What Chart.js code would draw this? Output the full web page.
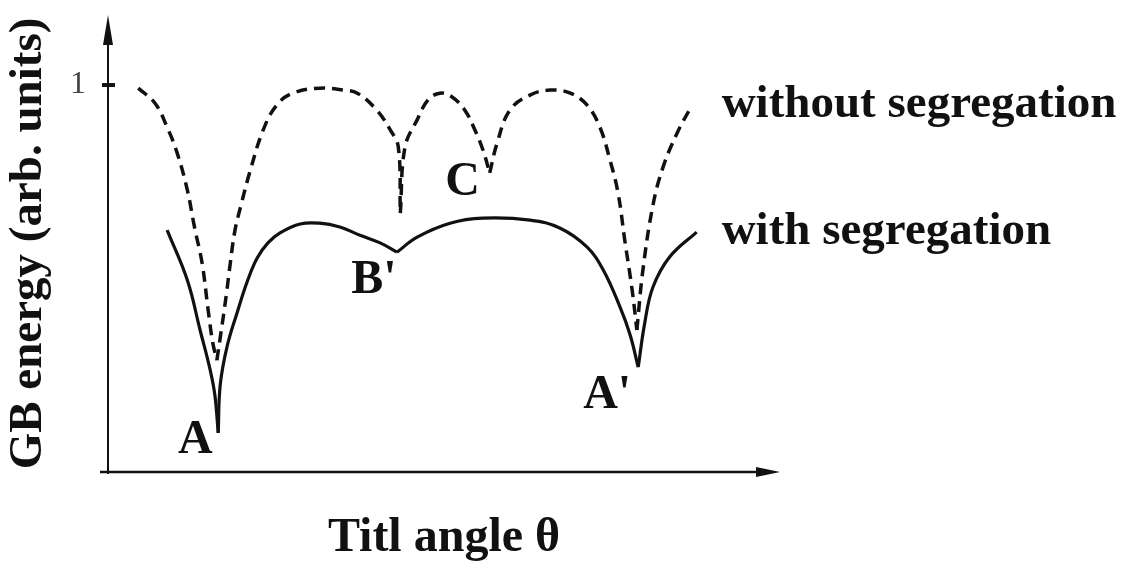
<!DOCTYPE html>
<html>
<head>
<meta charset="utf-8">
<script src="https://cdn.jsdelivr.net/npm/chart.js@4.4.1/dist/chart.umd.min.js"></script>
<style>
  html, body { margin: 0; padding: 0; background: #fff; }
  #wrap { width: 1137px; height: 568px; }
</style>
</head>
<body>
<div id="wrap"><canvas id="c" width="1137" height="568"></canvas></div>
<script>
// Tilt angle in arbitrary units (0-100); GB energy normalised so the high-angle plateau is 1.
// Each curve is kept as arcs running from one cusp to the next.
const withoutSegregation = [
  [[4.5,0.992],[7.0,0.953],[8.8,0.891],[10.3,0.824],[11.8,0.729],[12.9,0.630],[14.0,0.540],[14.9,0.419],[15.6,0.333],[16.2,0.289]],
  [[16.2,0.289],[16.8,0.359],[17.6,0.457],[18.2,0.540],[18.9,0.625],[19.8,0.690],[21.1,0.775],[23.1,0.884],[25.1,0.948],[27.5,0.979],[31.5,0.992],[35.0,0.987],[37.1,0.979],[40.0,0.935],[42.0,0.884],[43.2,0.840],[43.5,0.669]],
  [[43.5,0.669],[44.2,0.840],[46.0,0.910],[47.6,0.961],[49.4,0.979],[51.2,0.969],[53.1,0.935],[54.6,0.884],[55.8,0.832],[56.8,0.773]],
  [[56.8,0.773],[57.9,0.850],[59.8,0.935],[62.8,0.974],[65.8,0.987],[68.8,0.979],[71.3,0.948],[73.2,0.891],[74.7,0.806],[75.9,0.721],[76.9,0.599],[78.0,0.470],[78.7,0.367]],
  [[78.7,0.367],[79.6,0.522],[81.1,0.690],[82.6,0.788],[84.7,0.876],[86.9,0.948]]
];

const withSegregation = [
  [[8.8,0.625],[11.8,0.496],[13.7,0.367],[15.2,0.264],[15.9,0.199],[16.4,0.101]],
  [[16.4,0.101],[16.7,0.225],[17.7,0.323],[19.2,0.411],[20.8,0.496],[22.2,0.553],[23.8,0.592],[25.6,0.618],[28.6,0.641],[31.5,0.643],[34.5,0.633],[37.5,0.612],[40.5,0.592],[43.0,0.568]],
  [[43.0,0.568],[46.0,0.607],[50.9,0.643],[55.8,0.656],[62.8,0.651],[67.3,0.630],[71.3,0.581],[73.7,0.522],[76.2,0.426],[77.7,0.354],[78.9,0.271]],
  [[78.9,0.271],[79.9,0.388],[81.1,0.478],[83.6,0.556],[87.6,0.620]]
];

const seriesNames = ['without segregation', 'with segregation'];
const yTickValues = [1];

const INK = '#111';
const SERIF = '"Liberation Serif", "Times New Roman", serif';

function arcsToDatasets(arcs, name, dashed) {
  return arcs.map(arc => ({
    label: name,
    data: arc.map(([x, y]) => ({ x, y })),
    borderColor: INK,
    borderWidth: dashed ? 3.5 : 3.2,
    borderDash: dashed ? [11, 7] : [],
    borderCapStyle: 'butt',
    pointRadius: 0,
    fill: false,
    tension: 0.4
  }));
}

const datasets = [
  ...arcsToDatasets(withoutSegregation, seriesNames[0], true),
  ...arcsToDatasets(withSegregation, seriesNames[1], false)
];

// Cusp labels: which arc end they belong to, and a small nudge in pixels.
const cuspLabels = [
  { text: 'A',  arcs: withSegregation,    arc: 0, dx: -23, dy: 8 },
  { text: "B'", arcs: withSegregation,    arc: 1, dx: -23, dy: 28 },
  { text: 'C',  arcs: withoutSegregation, arc: 2, dx: -27, dy: 10 },
  { text: "A'", arcs: withSegregation,    arc: 2, dx: -31, dy: 28 }
];

const sketchPlugin = {
  id: 'sketch',
  afterDraw(chart) {
    const { ctx, chartArea: a, scales: { x, y } } = chart;
    ctx.save();
    ctx.strokeStyle = INK;
    ctx.fillStyle = INK;

    // horizontal axis with arrow
    ctx.lineWidth = 2.5;
    ctx.beginPath();
    ctx.moveTo(a.left - 8, a.bottom);
    ctx.lineTo(a.right - 16, a.bottom);
    ctx.stroke();
    ctx.beginPath();
    ctx.moveTo(a.right, a.bottom);
    ctx.lineTo(a.right - 24, a.bottom - 5);
    ctx.lineTo(a.right - 24, a.bottom + 5);
    ctx.closePath();
    ctx.fill();

    // vertical axis with arrow
    ctx.lineWidth = 2;
    ctx.beginPath();
    ctx.moveTo(a.left, a.bottom + 2);
    ctx.lineTo(a.left, a.top + 20);
    ctx.stroke();
    ctx.beginPath();
    ctx.moveTo(a.left, a.top);
    ctx.lineTo(a.left - 5, a.top + 30);
    ctx.lineTo(a.left + 5, a.top + 30);
    ctx.closePath();
    ctx.fill();

    // tick mark across the vertical axis
    ctx.lineWidth = 4;
    yTickValues.forEach(v => {
      const py = y.getPixelForValue(v);
      ctx.beginPath();
      ctx.moveTo(a.left - 6, py);
      ctx.lineTo(a.left + 7, py);
      ctx.stroke();
    });

    // series names at the right-hand ends of the curves
    ctx.font = 'bold 47px ' + SERIF;
    ctx.textBaseline = 'middle';
    ctx.textAlign = 'left';
    const ends = [withoutSegregation, withSegregation].map(arcs => {
      const last = arcs[arcs.length - 1];
      return last[last.length - 1];
    });
    const labelX = Math.max(...ends.map(p => x.getPixelForValue(p[0]))) + 25;
    ends.forEach((p, i) => {
      ctx.fillText(seriesNames[i], labelX, y.getPixelForValue(p[1]));
    });

    // cusp letters
    ctx.font = 'bold 48px ' + SERIF;
    ctx.textAlign = 'center';
    cuspLabels.forEach(l => {
      const arc = l.arcs[l.arc];
      const p = arc[arc.length - 1];
      ctx.fillText(l.text, x.getPixelForValue(p[0]) + l.dx, y.getPixelForValue(p[1]) + l.dy);
    });
    ctx.restore();
  }
};

new Chart(document.getElementById('c'), {
  type: 'line',
  data: { datasets },
  plugins: [sketchPlugin],
  options: {
    responsive: false,
    devicePixelRatio: 1,
    animation: false,
    layout: { padding: { top: 15, right: 357, left: 0, bottom: 0 } },
    plugins: { legend: { display: false }, tooltip: { enabled: false } },
    scales: {
      x: {
        type: 'linear',
        min: 0,
        max: 100,
        grid: { display: false },
        border: { display: false },
        ticks: { display: false },
        title: {
          display: true,
          text: 'Titl angle θ',
          color: INK,
          font: { family: SERIF, size: 48, weight: 'bold' },
          padding: { top: 0, bottom: 1 }
        },
        afterFit(s) { s.height = 96; s.paddingLeft = 0; s.paddingRight = 0; }
      },
      y: {
        type: 'linear',
        min: 0,
        max: 1.181,
        grid: { display: false },
        border: { display: false },
        afterBuildTicks(s) { s.ticks = yTickValues.map(v => ({ value: v })); },
        ticks: {
          color: '#444',
          padding: 14,
          font: { family: SERIF, size: 32 },
          callback: v => String(v)
        },
        title: {
          display: true,
          text: 'GB energy (arb. units)',
          color: INK,
          font: { family: SERIF, size: 47, weight: 'bold' },
          padding: { top: 1, bottom: 0 }
        },
        afterFit(s) { s.width = 108; s.paddingTop = 0; s.paddingBottom = 0; }
      }
    }
  }
});
</script>
</body>
</html>
